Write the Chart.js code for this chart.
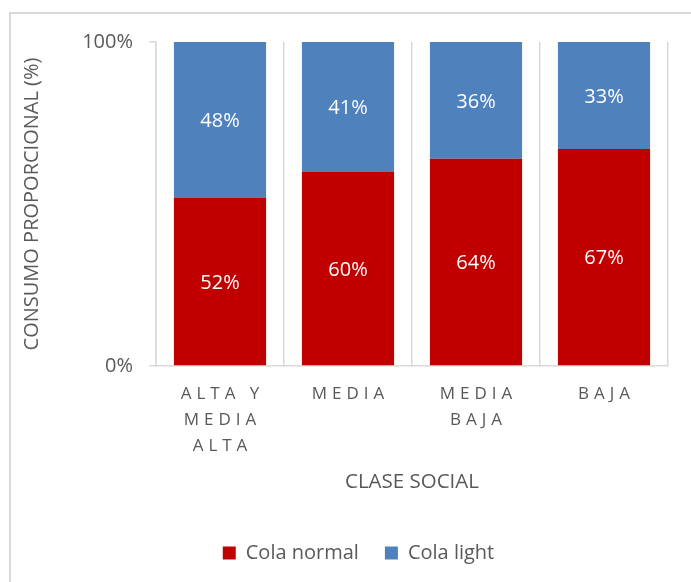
<!DOCTYPE html>
<html>
<head>
<meta charset="utf-8">
<script src="https://cdn.jsdelivr.net/npm/chart.js@4/dist/chart.umd.min.js"></script>
<style>
  html, body { margin: 0; padding: 0; background: #fff; overflow: hidden; }
  #frame { position: absolute; left: 9px; top: 12px; width: 697px; height: 600px; border: 2px solid #d9d9d9; }
  #c { position: absolute; left: 0; top: 0; }
</style>
</head>
<body>
<div id="frame"><canvas id="c" width="695" height="590"></canvas></div>
<script>
// Consumo proporcional de cola normal / light por clase social
const categories = [["ALTA Y", "MEDIA", "ALTA"], ["MEDIA"], ["MEDIA", "BAJA"], ["BAJA"]];
const colaNormal = [52, 60, 64, 67];
const colaLight = [48, 41, 36, 33];
const seriesNames = ["Cola normal", "Cola light"];
const yTicks = [0, 100];

const TEXT = '#595959';
const GRID = '#d9d9d9';
Chart.defaults.font.family = '"Open Sans", sans-serif';
Chart.defaults.color = TEXT;

// White percentage labels centred in the visible part of each segment
const barLabels = {
  id: 'barLabels',
  afterDatasetsDraw(chart) {
    const { ctx, chartArea } = chart;
    ctx.save();
    ctx.font = '20px "Open Sans", sans-serif';
    ctx.fillStyle = '#ffffff';
    ctx.textAlign = 'center';
    ctx.textBaseline = 'middle';
    chart.data.datasets.forEach((ds, i) => {
      chart.getDatasetMeta(i).data.forEach((bar, j) => {
        const top = Math.max(Math.min(bar.y, bar.base), chartArea.top);
        const bot = Math.min(Math.max(bar.y, bar.base), chartArea.bottom);
        ctx.fillText(ds.data[j] + '%', bar.x, (top + bot) / 2 + 1.5);
      });
    });
    ctx.restore();
  }
};

// Wide letter spacing for the category labels
const spacedTicks = {
  id: 'spacedTicks',
  afterLayout(chart) {
    const s = chart.scales.x;
    if (s._spaced) return;
    const orig = s.drawLabels.bind(s);
    s.drawLabels = function (area) {
      const ctx = this.ctx;
      ctx.save();
      ctx.letterSpacing = '5px';
      ctx.translate(2.5, 0);
      orig(area);
      ctx.restore();
    };
    s._spaced = true;
  }
};

new Chart(document.getElementById('c'), {
  type: 'bar',
  data: {
    labels: categories,
    datasets: [
      { label: seriesNames[0], data: colaNormal, backgroundColor: '#C00000', yAxisID: 'y',
        categoryPercentage: 1, barPercentage: 0.72 },
      { label: seriesNames[1], data: colaLight, backgroundColor: '#4F81BD', yAxisID: 'y',
        categoryPercentage: 1, barPercentage: 0.72 }
    ]
  },
  options: {
    responsive: false,
    animation: false,
    devicePixelRatio: 1,
    layout: { padding: { top: 28, right: 0, bottom: 31, left: 0 } },
    scales: {
      x: {
        stacked: true,
        offset: true,
        grid: { offset: true, color: GRID, lineWidth: 1.5, drawTicks: false },
        border: { color: GRID, width: 1.5 },
        ticks: { font: { size: 17, lineHeight: 1.53 }, color: TEXT, padding: 15,
                 maxRotation: 0, autoSkip: false },
        title: { display: true, text: 'CLASE SOCIAL', color: TEXT,
                 font: { size: 20.5, lineHeight: 1.2 }, padding: { top: 0, bottom: 23 } },
        afterFit(s) { s.height = 151; }
      },
      y: {
        stacked: true,
        min: yTicks[0],
        max: yTicks[1],
        afterBuildTicks(s) { s.ticks = yTicks.map(v => ({ value: v })); },
        grid: { drawOnChartArea: false, drawTicks: true, tickLength: 7, color: GRID, lineWidth: 1.5 },
        border: { color: GRID, width: 1.5 },
        ticks: { font: { size: 20 }, color: TEXT, padding: 16, callback: v => v + '%' },
        title: { display: true, text: 'CONSUMO PROPORCIONAL (%)', color: TEXT,
                 font: { size: 20, lineHeight: 1.2 }, padding: { top: 9, bottom: 0 } },
        afterFit(s) { s.width = 145; }
      },
      yRight: {
        position: 'right',
        display: true,
        grid: { display: false },
        border: { display: false },
        ticks: { display: false },
        afterFit(s) { s.width = 38; }
      }
    },
    plugins: {
      legend: {
        position: 'bottom',
        labels: { boxWidth: 13, boxHeight: 13, padding: 26, color: TEXT, font: { size: 20 } }
      },
      tooltip: { enabled: false }
    }
  },
  plugins: [barLabels, spacedTicks]
});
</script>
</body>
</html>
